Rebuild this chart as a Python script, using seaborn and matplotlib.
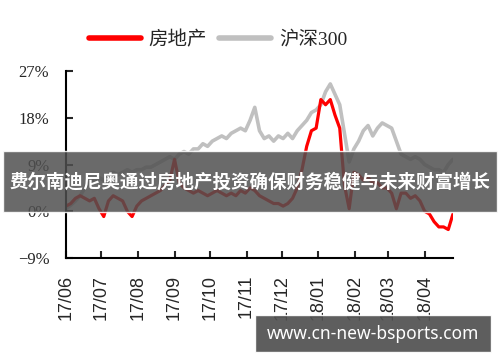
import pandas as pd
import seaborn as sns
import matplotlib.dates as mdates
from matplotlib import pyplot as plt
from matplotlib.patches import Rectangle
from matplotlib.lines import Line2D

# 數據: 每4天一個點, 2017-06-01 起
realestate = [1, 1.5, 2.5, 3, 2.5, 2, 2.5, 0.5, -1, 2,
              3, 2.5, 2, 0, -1, 1, 2, 2.5, 3, 3.5,
              4, 5, 6, 10, 5.5, 4.5, 4, 3.5, 4, 3.5,
              3, 3.5, 4, 3.5, 3, 3.5, 3, 4, 3.5, 4.5,
              4, 3, 2.5, 2, 1.5, 1.5, 1, 1.5, 2.5, 4.5,
              8, 12.5, 15.5, 16, 21.5, 20.5, 21.5, 18.5, 16, 5,
              0.5, 7.5, 7, 6, 6.5, 5.5, 5.5, 4.5, 4.5, 3.5,
              0.5, 3.5, 3.5, 2.5, 3, 2, 0, -0.5, -2, -3,
              -3, -3.5, -0.5]
hs300 = [0.5, 1.2, 2, 3, 4.5, 5.5, 6, 6.5, 6, 7,
         7.5, 7, 7.5, 8, 7.5, 8, 8, 8.5, 8.5, 9,
         9.5, 10, 10.5, 10, 11, 11.5, 11, 12, 12, 13,
         12.5, 13.5, 14, 14.5, 14, 15, 15.5, 16, 15.5, 17.5,
         20, 15.5, 14, 14.5, 13.5, 14.5, 14, 15, 14, 15.5,
         16.5, 17.5, 19, 19.5, 20.5, 23, 24.5, 22.5, 20.5, 15,
         9.5, 12, 13.5, 15.5, 16.5, 14.5, 16, 17, 16.5, 16,
         13.5, 11, 10.5, 10, 10.5, 10, 9, 8.5, 8, 8,
         7.5, 9, 10]
dates = pd.date_range("2017-06-01", periods=len(hs300), freq="4D")
month_ticks = pd.date_range("2017-06-01", "2018-04-01", freq="MS")
y_ticks = [-9, 0, 9, 18, 27]

df = pd.DataFrame({"date": dates, "房地产": realestate, "沪深300": hs300})

sns.set_style("ticks")
plt.rcParams["font.family"] = ["Liberation Serif", "Noto Sans CJK SC"]
plt.rcParams["axes.unicode_minus"] = True

fig = plt.figure(figsize=(5, 3.62), dpi=100)
ax = fig.add_axes([0.132, 0.287, 0.774, 0.517])

sns.lineplot(x="date", y="沪深300", data=df, color="#c0c0c0", linewidth=2.6, ax=ax)
sns.lineplot(x="date", y="房地产", data=df, color="#ff0000", linewidth=2.3, ax=ax)

ax.set_xlim(pd.Timestamp("2017-06-01"), dates[-1])
ax.set_ylim(-9, 27)
ax.set_yticks(y_ticks)
ax.set_yticklabels([f"{v}%".replace("-", "\u2212") for v in y_ticks], fontsize=12)
ax.set_xticks(month_ticks)
ax.xaxis.set_major_formatter(mdates.DateFormatter("%y/%m"))
for t in ax.get_xticklabels():
    t.set_rotation(90)
    t.set_fontsize(13)
    t.set_family(["Liberation Sans", "DejaVu Sans"])
ax.tick_params(direction="in", length=5, width=1.5)
ax.tick_params(axis="x", pad=12)
ax.tick_params(axis="y", pad=12)
ax.set_xlabel("")
ax.set_ylabel("")
sns.despine(ax=ax)
for s in ["left", "bottom"]:
    ax.spines[s].set_linewidth(1.5)
    ax.spines[s].set_color("black")

handles = [Line2D([], [], color="#ff0000", linewidth=4),
           Line2D([], [], color="#c0c0c0", linewidth=4)]
fig.legend(handles, ["房地产", "沪深300"], loc="center", bbox_to_anchor=(0.436, 0.89),
           ncol=2, frameon=False, fontsize=14, handlelength=2.7, columnspacing=0.6,
           handletextpad=0.4)

# 標題橫幅與水印
fig.patches.append(Rectangle((0.006, 0.414), 0.988, 0.169, transform=fig.transFigure,
                             facecolor="#505050", alpha=0.85, zorder=5))
fig.text(0.5, 0.497, "费尔南迪尼奥通过房地产投资确保财务稳健与未来财富增长", ha="center", va="center",
         color="white", fontsize=13.3, fontweight="bold", family="Noto Sans CJK SC", zorder=6)
fig.patches.append(Rectangle((0.51, 0.028), 0.472, 0.102, transform=fig.transFigure,
                             facecolor="#505050", alpha=0.92, zorder=5))
fig.text(0.746, 0.0785, "www.cn-new-bsports.com", ha="center", va="center",
         color="white", fontsize=12.5, fontweight="bold", family="Noto Sans", zorder=6)

fig.savefig("out.png", dpi=100)
